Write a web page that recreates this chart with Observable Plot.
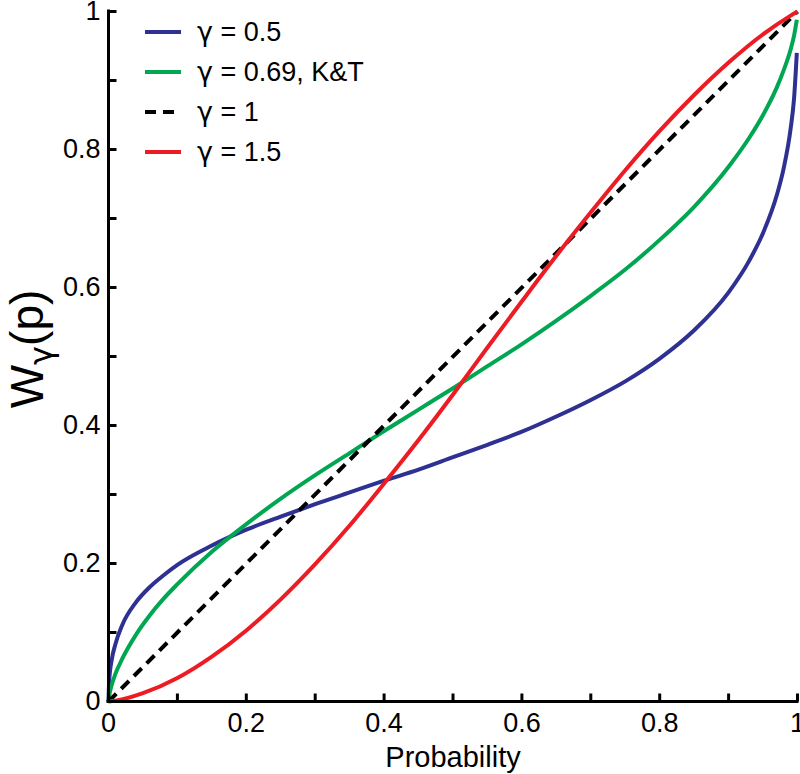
<!DOCTYPE html>
<html><head><meta charset="utf-8">
<script src="https://cdn.jsdelivr.net/npm/d3@7"></script>
<script src="https://cdn.jsdelivr.net/npm/@observablehq/plot@0.6"></script>
<style>
body{margin:0;background:#fff;}
#chart{width:800px;height:774px;}
</style>
</head><body><div id="chart"></div>
<script>
// ---- data ----
const seriesNames = ["γ = 0.5", "γ = 0.69, K&T", "γ = 1", "γ = 1.5"];
const seriesColors = ["#2e3192", "#00a651", "#000000", "#ed1c24"];
const seriesDash = [null, null, "11,7", null];

const pSteep = [0,0.001,0.005,0.01,0.02,0.04,0.06,0.08,0.1,0.15,0.2,0.25,0.3,0.35,0.4,0.45,0.5,0.55,0.6,0.65,0.7,0.75,0.8,0.85,0.9,0.93,0.95,0.97,0.98,0.99,0.995,0.999];
const wGamma05 = [0,0.030,0.062,0.083,0.111,0.144,0.166,0.183,0.198,0.226,0.249,0.268,0.286,0.303,0.320,0.336,0.354,0.372,0.391,0.413,0.437,0.464,0.497,0.538,0.593,0.639,0.679,0.734,0.773,0.830,0.874,0.940];
const wGamma069 = [0,0.008,0.025,0.040,0.062,0.097,0.125,0.149,0.170,0.217,0.257,0.294,0.328,0.360,0.392,0.423,0.454,0.486,0.518,0.552,0.588,0.626,0.669,0.717,0.775,0.817,0.850,0.890,0.915,0.945,0.965,0.988];
const pLinear = [0, 1];
const wGamma1 = [0, 1];
const pRed = [0,0.01,0.05,0.1,0.15,0.2,0.25,0.3,0.35,0.4,0.45,0.5,0.55,0.6,0.65,0.7,0.75,0.8,0.85,0.9,0.95,0.99,1];
const wGamma15 = [0,0.001,0.012,0.034,0.065,0.103,0.148,0.199,0.255,0.316,0.379,0.445,0.513,0.580,0.646,0.709,0.770,0.827,0.879,0.926,0.967,0.994,1];

const tickLabels = [0, 0.2, 0.4, 0.6, 0.8, 1];
const tickMarks = [0.1, 0.2, 0.3, 0.4, 0.5, 0.6, 0.7, 0.8, 0.9, 1];
const xTitle = "Probability";

// ---- build tables ----
const seriesP = [pSteep, pSteep, pLinear, pRed];
const seriesW = [wGamma05, wGamma069, wGamma1, wGamma15];
const series = seriesNames.map((name, i) => ({
  name, color: seriesColors[i], dash: seriesDash[i],
  rows: seriesP[i].map((p, j) => ({p, w: seriesW[i][j]}))
}));

const tickUp = {draw(ctx) { ctx.moveTo(0, 0); ctx.lineTo(0, -8); }};
const tickRight = {draw(ctx) { ctx.moveTo(0, 0); ctx.lineTo(8, 0); }};
const font = "'Liberation Sans', Arial, Helvetica, sans-serif";
const greekFont = "'DejaVu Sans', sans-serif";

const svg = Plot.plot({
  width: 800, height: 774,
  marginLeft: 108, marginRight: 3, marginTop: 11, marginBottom: 73,
  x: {domain: [0, 1]},
  y: {domain: [0, 1]},
  style: {fontFamily: font, background: "white", color: "black"},
  marks: [
    ...series.map(s => Plot.line(s.rows, {
      x: "p", y: "w", stroke: s.color, strokeWidth: 4,
      strokeDasharray: s.dash, curve: "monotone-x", strokeLinecap: "butt"
    })),
    Plot.ruleY([0], {strokeWidth: 3, strokeLinecap: "square"}),
    Plot.ruleX([0], {strokeWidth: 3, strokeLinecap: "square"}),
    Plot.dot(tickMarks, {x: d => d, y: () => 0, symbol: tickUp, stroke: "black", fill: "none", strokeWidth: 3}),
    Plot.dot(tickMarks, {x: () => 0, y: d => d, symbol: tickRight, stroke: "black", fill: "none", strokeWidth: 3}),
    Plot.axisX(tickLabels, {tickSize: 0, tickPadding: 11, fontSize: 27, tickFormat: d => String(d), label: null}),
    Plot.axisY(tickLabels, {tickSize: 0, tickPadding: 8, fontSize: 27, tickFormat: d => String(d), label: null}),
    Plot.text([xTitle], {text: d => d, frameAnchor: "bottom", dy: 65, fontSize: 29})
  ]
});
document.getElementById("chart").appendChild(svg);

const root = d3.select(svg);
// y-axis title with subscript gamma
const yt = root.append("text")
  .attr("transform", "translate(43,349) rotate(-90)")
  .attr("text-anchor", "middle")
  .attr("font-family", font)
  .attr("font-size", 46)
  .attr("fill", "black");
yt.append("tspan").text("W");
yt.append("tspan").attr("font-size", 32).attr("font-family", greekFont).attr("dy", 9).text("γ");
yt.append("tspan").attr("dy", -9).text("(p)");

// legend
const lg = root.append("g").attr("font-family", font).attr("font-size", 27).attr("text-anchor", "start");
series.forEach((s, i) => {
  const y = 32 + i * 40;
  lg.append("line").attr("x1", 145).attr("x2", 181).attr("y1", y).attr("y2", y)
    .attr("stroke", s.color).attr("stroke-width", 4)
    .attr("stroke-dasharray", s.dash);
  const t = lg.append("text").attr("x", 197).attr("y", y).attr("dy", "0.35em")
    .attr("text-anchor", "start").attr("fill", "black");
  t.append("tspan").attr("font-family", greekFont).text(s.name.slice(0, 1));
  t.append("tspan").text(s.name.slice(1));
});
</script>
</body></html>
